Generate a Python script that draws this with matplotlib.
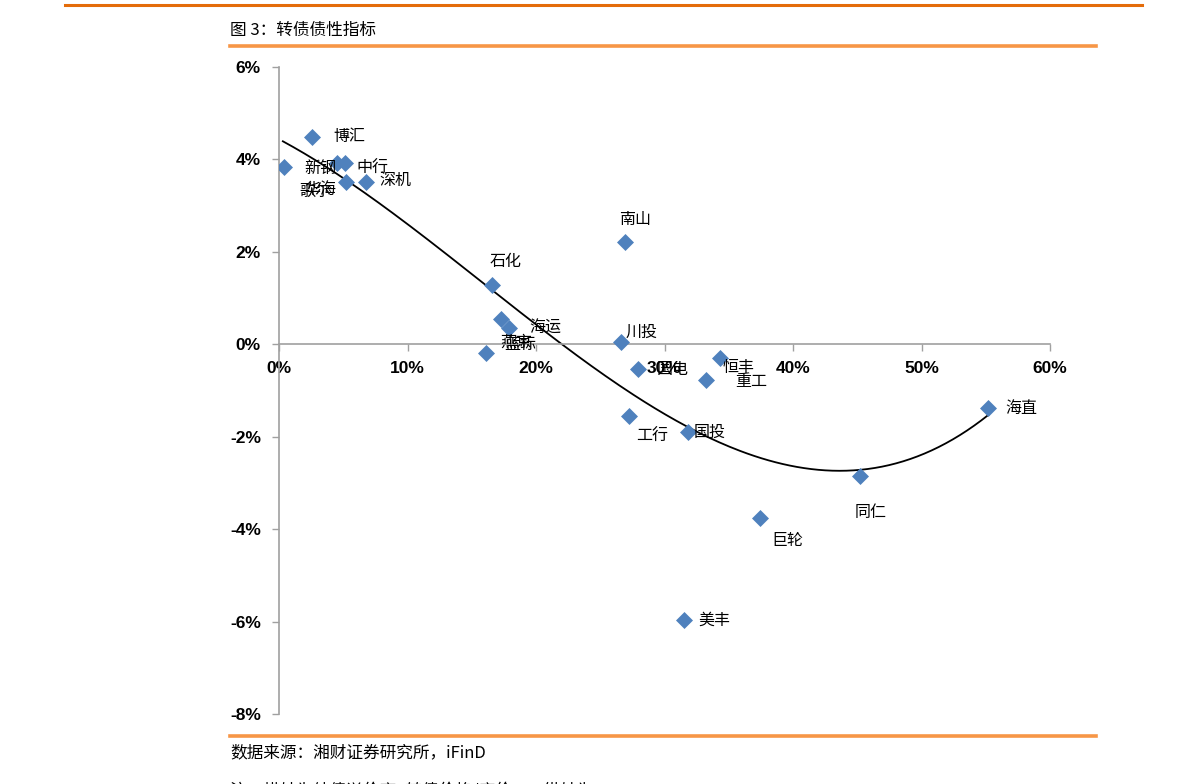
import numpy as np
import matplotlib.pyplot as plt
from matplotlib.lines import Line2D

plt.rcParams['font.family'] = ['Noto Sans CJK SC', 'DejaVu Sans']

# x: 纯债溢价率 (%), y: YTM (%)
names = ['新钢', '博汇', '中行', '', '歌尔', '深机', '南山', '石化', '海运', '',
         '燕京', '川投', '国电', '恒丰', '重工', '工行', '国投', '同仁', '巨轮',
         '美丰', '海直']
x_vals = [0.4, 2.6, 5.1, 4.5, 5.2, 6.8, 26.9, 16.6, 17.9, 17.3,
          16.1, 26.6, 27.9, 34.3, 33.2, 27.2, 31.8, 45.2, 37.4,
          31.5, 55.2]
y_vals = [3.83, 4.48, 3.92, 3.92, 3.52, 3.52, 2.22, 1.28, 0.35, 0.54,
          -0.19, 0.04, -0.54, -0.30, -0.77, -1.55, -1.90, -2.84, -3.75,
          -5.97, -1.38]
# label positions (data coords) for the text next to the points
label_pos = {
    '新钢': (2.0, 3.8), '博汇': (4.2, 4.5), '中行': (6.0, 3.8), '歌尔': (1.6, 3.3),
    '深机': (7.8, 3.55), '南山': (26.5, 2.7), '石化': (16.4, 1.8), '海运': (19.5, 0.35),
    '燕京': (17.2, 0.05), '川投': (27.0, 0.25), '国电': (29.4, -0.55), '恒丰': (34.5, -0.5),
    '重工': (35.5, -0.8), '工行': (27.8, -2.0), '国投': (32.3, -1.9), '同仁': (44.8, -3.65),
    '巨轮': (38.3, -4.25), '美丰': (32.6, -5.97), '海直': (56.5, -1.38),
}
extra_labels = [('华海', 2.0, 3.35), ('蓝标', 17.5, 0.0)]

fig = plt.figure(figsize=(11.91, 7.84), dpi=100)

# page decoration
fig.add_artist(Line2D([65 / 1191, 1142 / 1191], [1 - 5 / 784] * 2, color='#E46C0A', lw=2.2))
fig.add_artist(Line2D([230 / 1191, 1096 / 1191], [1 - 46 / 784] * 2, color='#F79646', lw=2.6))
fig.add_artist(Line2D([230 / 1191, 1096 / 1191], [1 - 736 / 784] * 2, color='#F79646', lw=2.6))
fig.text(230 / 1191, 1 - 30 / 784, '图 3：转债债性指标', fontsize=12, va='center', ha='left')
fig.text(230 / 1191, 1 - 753 / 784, '数据来源：湘财证券研究所，iFinD', fontsize=12, va='center', ha='left')
fig.text(230 / 1191, 1 - 791 / 784, '注：横轴为纯债溢价率=转债价格/底价-1，纵轴为 YTM', fontsize=12,
         va='center', ha='left')

ax = fig.add_axes([279 / 1191, 1 - 714 / 784, (1050 - 279) / 1191, (714 - 67) / 784])

for s in ['top', 'right']:
    ax.spines[s].set_visible(False)
ax.spines['bottom'].set_position(('data', 0))
ax.spines['left'].set_position(('data', 0))
for s in ['bottom', 'left']:
    ax.spines[s].set_color('#A0A0A0')
    ax.spines[s].set_linewidth(1.2)

ax.scatter(x_vals, y_vals, marker='D', s=75, color='#4F81BD', zorder=3, linewidths=0)

# polynomial trend line (order 3)
coef = np.polyfit(x_vals, y_vals, 3)
xs = np.linspace(0.3, max(x_vals), 200)
ax.plot(xs, np.polyval(coef, xs), color='black', lw=1.3, zorder=2)

for n in names:
    if n in label_pos:
        lx, ly = label_pos[n]
        ax.text(lx, ly, n, fontsize=11.5, va='center', ha='left', zorder=4)
for n, lx, ly in extra_labels:
    ax.text(lx, ly, n, fontsize=11.5, va='center', ha='left', zorder=4)

ax.set_xlim(0, 60)
ax.set_ylim(-8, 6)
ax.set_xticks(np.arange(0, 61, 10))
ax.set_yticks(np.arange(-8, 7, 2))
ax.set_xticklabels([f'{v}%' for v in range(0, 61, 10)], fontweight='bold', fontsize=12.5,
                   family='Liberation Sans')
ax.set_yticklabels([f'{v}%' for v in range(-8, 7, 2)], fontweight='bold', fontsize=12.5,
                   family='Liberation Sans')
ax.tick_params(axis='both', color='#A0A0A0', length=5, width=1, direction='out')
ax.tick_params(axis='x', pad=7)
ax.tick_params(axis='y', pad=8)

fig.savefig('out.png', dpi=100)
